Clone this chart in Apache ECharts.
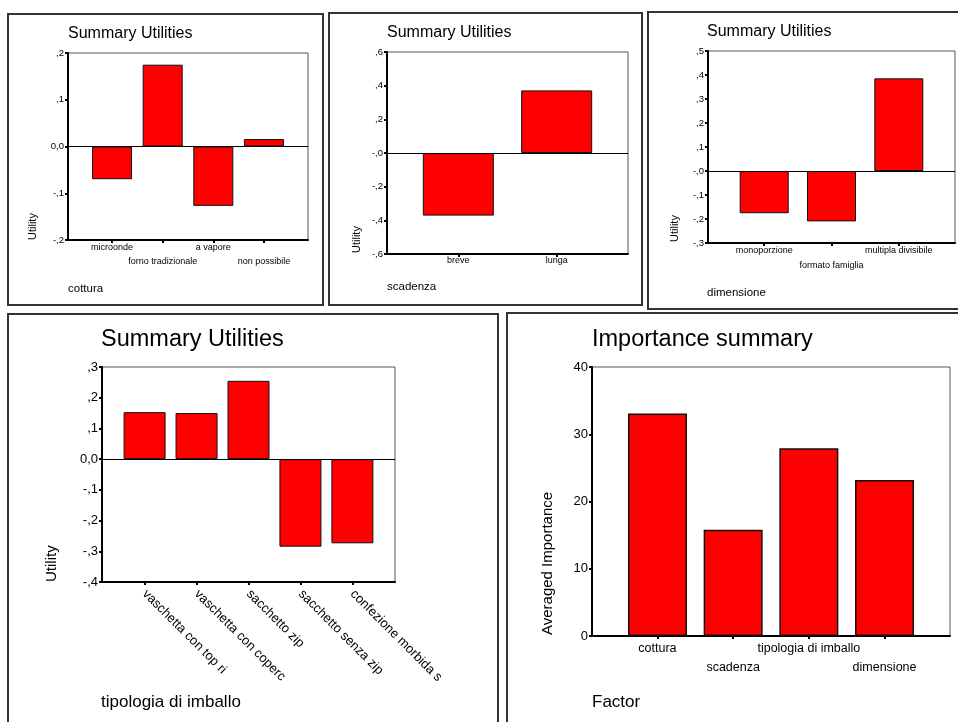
<!DOCTYPE html>
<html>
<head>
<meta charset="utf-8">
<script src="https://cdn.jsdelivr.net/npm/echarts@6/dist/echarts.min.js"></script>
<style>
  html, body { margin: 0; padding: 0; background: #fff; }
  #chart { width: 958px; height: 722px; }
</style>
</head>
<body>
<div id="chart"></div>
<script>
// Conjoint analysis: part-worth utilities per factor and averaged importance

const cotturaLevels = ['microonde', 'forno tradizionale', 'a vapore', 'non possibile'];
const cotturaUtility = [-0.070, 0.175, -0.127, 0.016];

const scadenzaLevels = ['breve', 'lunga'];
const scadenzaUtility = [-0.372, 0.372];

const dimensioneLevels = ['monoporzione', 'formato famiglia', 'multipla divisibile'];
const dimensioneUtility = [-0.176, -0.210, 0.386];

const imballoLevels = ['vaschetta con top ri', 'vaschetta con coperc', 'sacchetto zip', 'sacchetto senza zip', 'confezione morbida s'];
const imballoUtility = [0.153, 0.150, 0.255, -0.285, -0.274];

const factorNames = ['cottura', 'scadenza', 'tipologia di imballo', 'dimensione'];
const factorImportance = [33.1, 15.8, 27.9, 23.2];

// y tick labels, bottom to top
const cotturaTicks = ['-,2', '-,1', '0,0', ',1', ',2'];
const scadenzaTicks = ['-,6', '-,4', '-,2', '-,0', ',2', ',4', ',6'];
const dimensioneTicks = ['-,3', '-,2', '-,1', '-,0', ',1', ',2', ',3', ',4', ',5'];
const imballoTicks = ['-,4', '-,3', '-,2', '-,1', '0,0', ',1', ',2', ',3'];
const importanceTicks = ['0', '10', '20', '30', '40'];

const FONT = 'Liberation Sans, Arial, sans-serif';
const RED = '#ff0000';

const chart = echarts.init(document.getElementById('chart'), null, { renderer: 'canvas' });

const indices = n => Array.from({ length: n }, (_, i) => i);

// panel layout: grid box, x padding (in category units), axis text sizes
const panels = [
  { levels: cotturaLevels, values: cotturaUtility, ticks: cotturaTicks,
    grid: { left: 68, top: 53, width: 240, height: 187 }, pad: 0.87, barWidth: 40,
    yMin: -0.2, yMax: 0.2, yStep: 0.1, yFont: 9.5, xFont: 9, rowGap: 14, xMargin: 3, stagger: true, zero: true },
  { levels: scadenzaLevels, values: scadenzaUtility, ticks: scadenzaTicks,
    grid: { left: 387, top: 52, width: 241, height: 202 }, pad: 0.725, barWidth: 71,
    yMin: -0.6, yMax: 0.6, yStep: 0.2, yFont: 9.5, xFont: 9, rowGap: 0, xMargin: 2, stagger: false, zero: true },
  { levels: dimensioneLevels, values: dimensioneUtility, ticks: dimensioneTicks,
    grid: { left: 708, top: 51, width: 247, height: 192 }, pad: 0.835, barWidth: 49,
    yMin: -0.3, yMax: 0.5, yStep: 0.1, yFont: 9.5, xFont: 9, rowGap: 15, xMargin: 3, stagger: true, zero: true },
  { levels: imballoLevels, values: imballoUtility, ticks: imballoTicks,
    grid: { left: 102, top: 367, width: 293, height: 215 }, pad: 0.82, barWidth: 42,
    yMin: -0.4, yMax: 0.3, yStep: 0.1, yFont: 13, xFont: 13, rowGap: 0, xMargin: 10, rotate: -45, stagger: false, zero: true },
  { levels: factorNames, values: factorImportance, ticks: importanceTicks,
    grid: { left: 592, top: 367, width: 358, height: 269 }, pad: 0.865, barWidth: 59,
    yMin: 0, yMax: 40, yStep: 10, yFont: 13, xFont: 12.5, rowGap: 19, xMargin: 6, stagger: true, zero: false, thickBorder: true }
];

const grid = [], xAxis = [], yAxis = [], series = [];

panels.forEach((p, k) => {
  const n = p.levels.length;
  const cats = indices(n);
  // staggered panels put even levels on the first row, odd levels one row lower
  const rowA = p.stagger ? cats.filter(i => i % 2 === 0) : cats;
  const rowB = p.stagger ? cats.filter(i => i % 2 === 1) : [];
  grid.push(Object.assign({ show: true, borderColor: '#555', borderWidth: 1, backgroundColor: '#fff', containLabel: false }, p.grid));

  const labelStyle = {
    color: '#000', fontFamily: FONT, fontSize: p.xFont,
    showMinLabel: true, showMaxLabel: true,
    formatter: v => p.levels[Math.round(v)]
  };
  const xIndex = xAxis.length;
  xAxis.push({
    type: 'value', gridIndex: k, position: 'bottom', min: -p.pad, max: n - 1 + p.pad,
    axisLine: { show: true, onZero: false, lineStyle: { color: '#000', width: 2 } },
    axisTick: { show: true, customValues: cats, length: 3, lineStyle: { color: '#000', width: 2 } },
    splitLine: { show: false },
    axisLabel: Object.assign({ customValues: rowA, margin: p.xMargin, rotate: p.rotate || 0 }, labelStyle)
  });
  if (rowB.length) {
    xAxis.push({
      type: 'value', gridIndex: k, position: 'bottom', min: -p.pad, max: n - 1 + p.pad,
      axisLine: { show: false, onZero: false },
      axisTick: { show: false },
      splitLine: { show: false },
      axisLabel: Object.assign({ customValues: rowB, margin: p.xMargin + p.rowGap }, labelStyle)
    });
  }
  yAxis.push({
    type: 'value', gridIndex: k, min: p.yMin, max: p.yMax, interval: p.yStep,
    axisLine: { show: true, onZero: false, lineStyle: { color: '#000', width: 2 } },
    axisTick: { show: true, length: 3, lineStyle: { color: '#000', width: 2 } },
    splitLine: { show: false },
    axisLabel: {
      color: '#000', fontFamily: FONT, fontSize: p.yFont, margin: 4,
      showMinLabel: true, showMaxLabel: true,
      formatter: (v, i) => p.ticks[i] !== undefined ? p.ticks[i] : ''
    }
  });
  const s = {
    type: 'bar', xAxisIndex: xIndex, yAxisIndex: k,
    barWidth: p.barWidth,
    data: p.values.map((v, i) => [i, v]),
    itemStyle: { color: RED, borderColor: '#111', borderWidth: p.thickBorder ? 1.5 : 1 },
    silent: true
  };
  if (p.zero) {
    s.markLine = {
      silent: true, symbol: ['none', 'none'], animation: false,
      label: { show: false },
      lineStyle: { color: '#000', width: 1, type: 'solid' },
      data: [{ yAxis: 0 }]
    };
  }
  series.push(s);
});

// panel frames
const frames = [
  [8, 14, 315, 291], [329, 13, 313, 292], [648, 12, 320, 297],
  [8, 314, 490, 420], [507, 313, 460, 420]
].map(r => ({
  type: 'rect', silent: true, z: -10,
  shape: { x: r[0], y: r[1], width: r[2], height: r[3] },
  style: { fill: '#fff', stroke: '#333', lineWidth: 2 }
}));

function txt(text, x, y, size, rot) {
  return {
    type: 'text', x: x, y: y, rotation: rot || 0, silent: true, z: 10,
    style: { text: text, font: size + 'px ' + FONT, fill: '#000', align: 'left', verticalAlign: 'middle' }
  };
}

const labels = [
  txt('Summary Utilities', 68, 33.5, 16),
  txt('Summary Utilities', 387, 33, 16),
  txt('Summary Utilities', 707, 31.5, 16),
  txt('Summary Utilities', 101, 340, 23.5),
  txt('Importance summary', 592, 340, 23.5),
  txt('Utility', 33, 240, 11, Math.PI / 2),
  txt('Utility', 357, 253, 11, Math.PI / 2),
  txt('Utility', 675, 242, 11, Math.PI / 2),
  txt('Utility', 52, 582, 15, Math.PI / 2),
  txt('Averaged Importance', 548, 635, 15, Math.PI / 2),
  txt('cottura', 68, 289, 11.5),
  txt('scadenza', 387, 287, 11.5),
  txt('dimensione', 707, 292.5, 11.5),
  txt('tipologia di imballo', 101, 702.5, 17),
  txt('Factor', 592, 702, 17)
];

chart.setOption({
  animation: false,
  backgroundColor: '#fff',
  grid: grid,
  xAxis: xAxis,
  yAxis: yAxis,
  series: series,
  graphic: { elements: frames.concat(labels) }
});
</script>
</body>
</html>
